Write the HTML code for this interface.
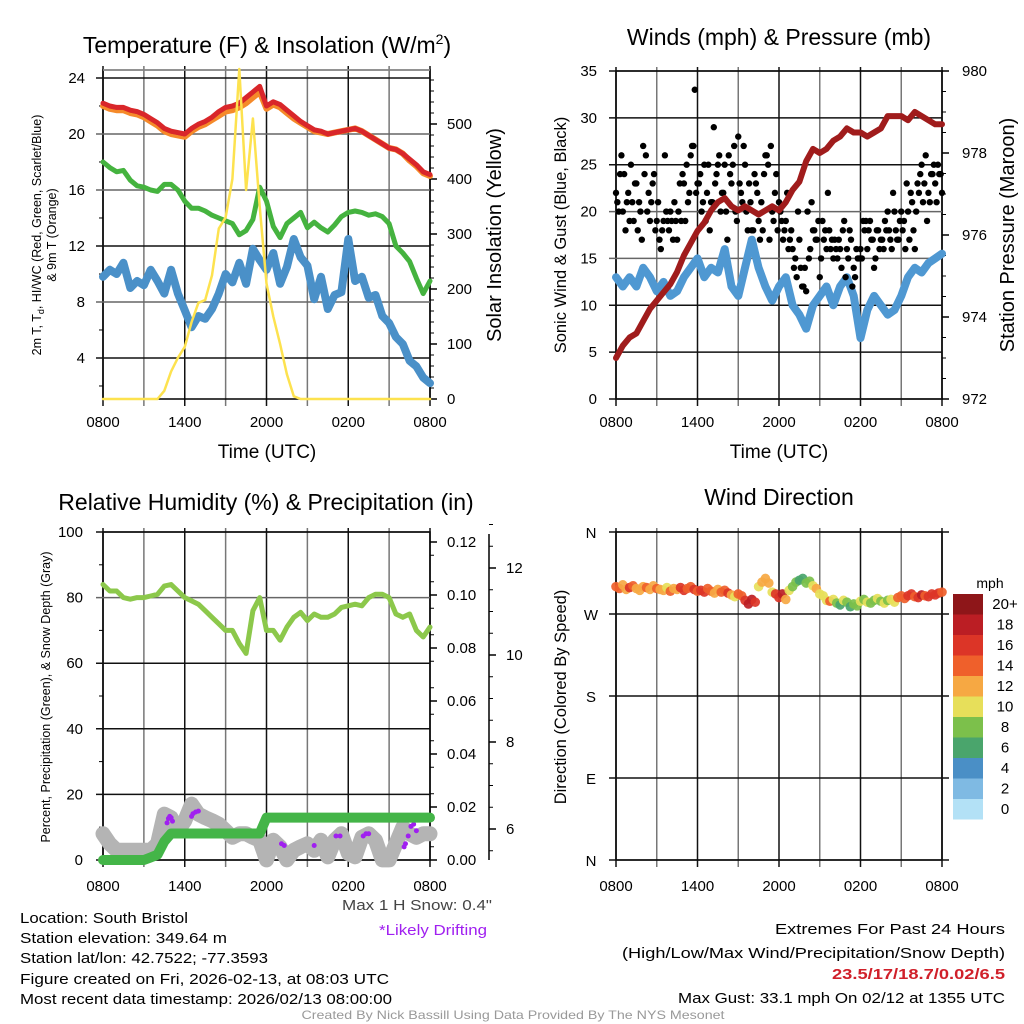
<!DOCTYPE html>
<html><head><meta charset="utf-8"><style>
html,body{margin:0;padding:0;background:#fff;}
svg{display:block;font-family:"Liberation Sans",sans-serif;}
</style></head><body>
<svg id="s" width="1024" height="1024" viewBox="0 0 1024 1024" xmlns="http://www.w3.org/2000/svg">
<rect width="1024" height="1024" fill="#fff"/>
<text x="267" y="53" font-size="23" text-anchor="middle">Temperature (F) &amp; Insolation (W/m<tspan font-size="14" dy="-9">2</tspan><tspan dy="9">)</tspan></text>
<text x="779" y="45" font-size="23" text-anchor="middle">Winds (mph) &amp; Pressure (mb)</text>
<text x="266" y="510" font-size="23" text-anchor="middle">Relative Humidity (%) &amp; Precipitation (in)</text>
<text x="779" y="505" font-size="23" text-anchor="middle">Wind Direction</text>
<text x="267" y="458" font-size="19" text-anchor="middle">Time (UTC)</text>
<text x="779" y="458" font-size="19" text-anchor="middle">Time (UTC)</text>
<text transform="translate(41,235) rotate(-90)" font-size="12.5" text-anchor="middle">2m T, T<tspan font-size="9" dy="3">d</tspan><tspan dy="-3">, HI/WC (Red, Green, Scarlet/Blue)</tspan></text>
<text transform="translate(56,235) rotate(-90)" font-size="12.5" text-anchor="middle">&amp; 9m T (Orange)</text>
<text transform="translate(501,235) rotate(-90)" font-size="20" text-anchor="middle">Solar Insolation (Yellow)</text>
<text transform="translate(566,235) rotate(-90)" font-size="16.5" text-anchor="middle">Sonic Wind &amp; Gust (Blue, Black)</text>
<text transform="translate(1014,235) rotate(-90)" font-size="20" text-anchor="middle">Station Pressure (Maroon)</text>
<text transform="translate(50,697) rotate(-90)" font-size="12.5" text-anchor="middle">Percent, Precipitation (Green), &amp; Snow Depth (Gray)</text>
<text transform="translate(566,697) rotate(-90)" font-size="16.5" text-anchor="middle">Direction (Colored By Speed)</text>
<text x="990" y="588" font-size="14" text-anchor="middle">mph</text>
<g font-size="15">
<text x="492" y="910" text-anchor="end" fill="#444" textLength="150" lengthAdjust="spacingAndGlyphs">Max 1 H Snow: 0.4"</text>
<text x="487" y="935" text-anchor="end" fill="#a020f0" textLength="108" lengthAdjust="spacingAndGlyphs">*Likely Drifting</text>
<text x="20" y="923" textLength="168" lengthAdjust="spacingAndGlyphs">Location: South Bristol</text>
<text x="20" y="943" textLength="207" lengthAdjust="spacingAndGlyphs">Station elevation: 349.64 m</text>
<text x="20" y="963" textLength="248" lengthAdjust="spacingAndGlyphs">Station lat/lon: 42.7522; -77.3593</text>
<text x="20" y="984" textLength="369" lengthAdjust="spacingAndGlyphs">Figure created on Fri, 2026-02-13, at 08:03 UTC</text>
<text x="20" y="1004" textLength="372" lengthAdjust="spacingAndGlyphs">Most recent data timestamp: 2026/02/13 08:00:00</text>
<text x="1005" y="934" text-anchor="end" textLength="230" lengthAdjust="spacingAndGlyphs">Extremes For Past 24 Hours</text>
<text x="1005" y="958" text-anchor="end" textLength="383" lengthAdjust="spacingAndGlyphs">(High/Low/Max Wind/Precipitation/Snow Depth)</text>
<text x="1005" y="979" text-anchor="end" fill="#d0202a" font-weight="bold" textLength="173" lengthAdjust="spacingAndGlyphs">23.5/17/18.7/0.02/6.5</text>
<text x="1005" y="1003" text-anchor="end" textLength="327" lengthAdjust="spacingAndGlyphs">Max Gust: 33.1 mph On 02/12 at 1355 UTC</text>
</g>
<text x="513" y="1019" font-size="12" fill="#999" text-anchor="middle" textLength="423" lengthAdjust="spacingAndGlyphs">Created By Nick Bassill Using Data Provided By The NYS Mesonet</text>
<g id="marks"></g>
</svg>
<script>
// ---- data ----
const hh = [];
for (let i = 0; i <= 48; i++) hh.push(i * 0.5);
const xTickLabels = ["0800","1400","2000","0200","0800"];
const tempRed = [22.2,22.0,21.9,21.9,21.7,21.6,21.4,21.1,20.8,20.4,20.2,20.1,20.0,20.4,20.7,20.9,21.2,21.6,21.9,22.0,22.2,22.6,23.0,23.4,22.0,22.3,22.1,21.7,21.3,20.9,20.6,20.3,20.2,20.0,20.1,20.2,20.3,20.4,20.2,19.9,19.6,19.3,19.0,18.9,18.6,18.2,17.8,17.3,17.1];
const temp9m = [22.0,21.8,21.7,21.7,21.5,21.4,21.2,20.9,20.6,20.2,20.0,19.9,19.8,20.2,20.5,20.7,21.0,21.3,21.6,21.7,21.9,22.2,22.6,23.0,21.8,22.1,21.9,21.5,21.1,20.8,20.5,20.2,20.1,20.0,20.1,20.2,20.3,20.4,20.2,19.9,19.6,19.3,19.0,18.9,18.6,18.1,17.7,17.2,17.0];
const tempWC = [22.1,21.9,21.8,21.8,21.6,21.5,21.3,21.0,20.7,20.3,20.1,20.0,19.9,20.3,20.6,20.8,21.1,21.5,21.8,21.9,22.1,22.5,22.9,23.3,21.9,22.2,22.0,21.6,21.2,20.8,20.5,20.2,20.1,19.9,20.0,20.1,20.2,20.3,20.1,19.8,19.5,19.2,18.9,18.8,18.5,18.1,17.7,17.2,17.0];
const dewGreen = [18.0,17.6,17.3,17.4,16.7,16.3,16.2,16.0,15.9,16.4,16.4,16.0,15.2,14.7,14.7,14.5,14.2,14.0,13.8,13.6,12.8,13.1,13.9,16.2,15.2,13.4,12.6,13.6,14.0,14.4,13.3,13.7,13.3,13.0,13.5,14.1,14.4,14.5,14.4,14.2,14.3,14.1,13.6,12.0,11.5,10.9,9.7,8.6,9.5];
const chillBlue = [9.8,10.3,10.0,10.8,9.0,9.5,9.2,10.3,9.5,8.6,10.3,8.6,7.4,6.2,7.0,6.8,7.5,8.6,10.0,9.4,10.8,9.3,11.8,11.0,10.3,11.5,9.3,10.5,12.5,11.2,10.6,8.2,9.8,7.5,8.5,8.7,12.5,9.5,9.8,8.3,8.5,7.0,6.5,5.5,5.0,3.8,3.4,2.6,2.2];
const solar = [0,0,0,0,0,0,0,0,0,15,50,75,95,140,175,180,225,310,330,400,600,380,510,350,210,150,100,45,5,0,0,0,0,0,0,0,0,0,0,0,0,0,0,0,0,0,0,0,0];
const tempTicks = [4,8,12,16,20,24];
const solarTicks = [0,100,200,300,400,500];
const pressure = [973.0,973.3,973.5,973.6,973.9,974.2,974.4,974.6,974.8,975.1,975.5,975.8,976.1,976.3,976.6,976.8,976.9,976.7,976.6,976.7,976.6,976.5,976.6,976.7,976.6,976.8,977.1,977.3,977.8,978.1,978.0,978.1,978.3,978.4,978.6,978.5,978.5,978.4,978.5,978.6,978.9,978.9,978.9,978.8,979.0,978.9,978.8,978.7,978.7];
const windSpeed = [13,12,13,12,14,13,11.5,12.5,11,11.5,13,14,15,13,14,13.5,16,12,11,14,17,14,12,10.5,12,13,10,9,7.5,10,11,12,10,12,13,11,6.5,9.5,11,10,9,9.5,11,13,14,13.5,14.5,15,15.5];
const gustsA = [22,20,26,24,21,19,21,23,18,20,27,26,22,21,24,19,17,18,26,19,20,17,19,20,19,23,25,22,27,33,23,24,21,19,25,21,29,24,26,22,25,17,24,25,20,28,22,27,20,23,18,24,22,17,18,26,25,27,19,24,21,19,18,22,17,16,15,20,14,12,11.5,15,21,18,17,13,19,18,22,16,15,16,17,14,19,16,18,12,13,15,16,19,19,18,17,14,18,16,17,19,20,17,22,18,17,20,19,23,17,21,16,23,24,21,26,22,24,25,21,24,22];
const gustsB = [21,24,20,18,22,25,19,23,21,17,24,20,19,23,18,21,16,19,20,18,19,21,17,23,24,19,21,26,27,22,23,20,25,22,18,21,23,25,20,22,20,26,23,27,19,23,21,25,18,21,18,23,19,21,24,26,17,20,22,18,20,17,19,16,18,14,13,17,12,14,20,16,18,17,19,15,17,16,18,17,17,15,16,18,13,15,17,14,16,15,15,18,16,19,17,15,18,17,16,18,18,16,20,17,19,18,16,20,22,18,20,22,25,23,19,21,24,23,25,24];
const windTicks = [0,5,10,15,20,25,30,35];
const presTicks = [972,974,976,978,980];
const rh = [84,82,82,80,79.5,80,80,80.5,81,83.5,84,82,80,79,78,76,74,72,70,70,66,63,76,80,70,70,67,71,74,75.5,73,75,74,74,75,77,77.5,78,77.5,80,81,81,80,75,74,75,70,68,71];
const precip = [0,0,0,0,0,0,0,0.001,0.002,0.007,0.01,0.01,0.01,0.01,0.01,0.01,0.01,0.01,0.01,0.01,0.01,0.01,0.01,0.01,0.016,0.016,0.016,0.016,0.016,0.016,0.016,0.016,0.016,0.016,0.016,0.016,0.016,0.016,0.016,0.016,0.016,0.016,0.016,0.016,0.016,0.016,0.016,0.016,0.016];
const snowDepth = [5.89,5.66,5.51,5.51,5.51,5.51,5.51,5.51,5.66,6.34,6.26,5.96,6.19,6.57,6.34,6.26,6.19,6.11,5.96,5.81,5.89,5.89,5.81,5.74,5.29,5.74,5.59,5.29,5.51,5.59,5.66,5.51,5.74,5.36,5.74,5.89,5.44,5.36,5.81,5.89,5.74,5.29,5.29,5.66,6.04,5.89,5.81,5.89,5.89];
const driftT = [4.7,4.8,4.9,5.0,5.1,6.5,6.6,6.8,7.0,13.1,13.3,15.5,17.1,17.4,19.1,19.3,19.5,22.1,22.2,22.4,22.6,22.8,23.0];
const driftSnow = [6.14,6.24,6.29,6.26,6.18,6.29,6.35,6.39,6.41,5.66,5.62,5.62,5.84,5.84,5.84,5.89,5.89,5.59,5.66,5.84,6.06,6.11,5.96];
const rhTicks = [0,20,40,60,80,100];
const precTicks = [0,0.02,0.04,0.06,0.08,0.10,0.12];
const snowTicks = [6,8,10,12];
const dirT = [];
for (let i = 0; i <= 96; i++) dirT.push(i * 0.25);
const dirs = [300,298,302,297,299,301,298,296,300,299,297,301,298,297,296,299,295,298,297,299,296,298,300,297,295,296,294,298,295,293,297,294,296,293,291,289,292,290,285,281,286,283,300,305,309,304,294,292,288,292,286,296,300,305,307,309,304,306,301,298,292,290,285,284,286,282,280,285,283,278,281,279,284,286,283,282,285,287,284,282,285,286,283,288,290,287,290,292,289,288,291,290,289,292,291,293,294];
const dirSpeed = [14,15,13,12,16,14,13,12,13,14,12,12,15,13,12,11,14,12,13,16,17,15,14,16,15,16,17,14,15,13,12,14,15,16,12,11,14,15,16,18,19,17,11,12,13,12,11,16,17,18,12,11,9,8,7,7,8,9,10,12,11,10,11,14,10,8,6,10,9,7,8,9,10,8,10,8,9,11,8,10,9,11,10,14,15,15,16,17,14,16,18,15,17,16,16,17,15];
const dirLabels = ["N","W","S","E","N"];
const dirTickVals = [360,270,180,90,0];
const speedBins = ["0","2","4","6","8","10","12","14","16","18","20+"];
const speedColors = ["#b3e1f6","#7fbae3","#4a8fc6","#4aa56c","#7cc04b","#e7df5a","#f6a843","#ef602b","#dc3527","#bb1e24","#8e1619"];

// ---- helpers ----
const NS = "http://www.w3.org/2000/svg";
const root = document.getElementById("marks");
function mk(tag, attrs, name) {
  const el = document.createElementNS(NS, tag);
  for (const k in attrs) el.setAttribute(k, attrs[k]);
  
  
  root.appendChild(el);
  return el;
}
function txt(x, y, s, size, anchor, name, fill) {
  const el = mk("text", {x: x, y: y, "font-size": size, "text-anchor": anchor, fill: fill || "#000"}, name);
  el.textContent = s;
  return el;
}
function line(x1, y1, x2, y2, stroke, w, name) {
  return mk("line", {x1: x1, y1: y1, x2: x2, y2: y2, stroke: stroke, "stroke-width": w}, name);
}
function series(ts, vs, X, Y, color, w, name) {
  const pts = ts.map((t, i) => X(t).toFixed(1) + "," + Y(vs[i]).toFixed(1)).join(" ");
  return mk("polyline", {points: pts, fill: "none", stroke: color, "stroke-width": w, "stroke-linejoin": "round", "stroke-linecap": "round"}, name);
}

// ---- scales ----
const L1 = 103, R1 = 430, L2 = 616, R2 = 942;
const X1 = t => L1 + t * (R1 - L1) / 24;
const X2 = t => L2 + t * (R2 - L2) / 24;
const Ytemp = v => 399 - (v - 1.07) * 14;
const Ysol = v => 399 - v * 0.55;
const Ywind = v => 399 - v * 328 / 35;
const Ypres = v => 399 - (v - 972) * 41;
const Yrh = v => 860 - v * 3.28;
const Yprec = v => 860 - v * 2650;
const Ysnow = v => 829 - (v - 6) * 43.5;
const Ydir = v => 860 - v * 328 / 360;

function frame(L, R, T, B, X, prefix, labelY) {
  for (let h = 0; h <= 24; h += 3) {
    const x = X(h);
    line(x, T - 4, x, B + 7, (h % 6 === 0) ? "#111" : "#777", 1.5, prefix + "-vgrid");
  }
  mk("rect", {x: L, y: T, width: R - L, height: B - T, fill: "none", stroke: "#000", "stroke-width": 1.5}, prefix + "-frame");
  xTickLabels.forEach((s, i) => txt(X(i * 6), labelY, s, 15, "middle", prefix + "-x-tick-label"));
}

// Panel 1
frame(L1, R1, 70, 399, X1, "temp", 427);
line(L1, 70, R1, 70, "#999", 1.5, "temp-top-line");
tempTicks.forEach(v => {
  line(L1 - 7, Ytemp(v), R1, Ytemp(v), (v === 8 || v === 16 || v === 20) ? "#666" : "#111", 1.5, "temp-hgrid");
  txt(L1 - 18, Ytemp(v) + 5, String(v), 15, "end", "temp-y-tick-label");
});
for (let v = 2; v <= 24; v += 4) line(L1 - 4, Ytemp(v), L1, Ytemp(v), "#000", 1, "temp-minor-tick");
solarTicks.forEach(v => {
  line(R1, Ysol(v), R1 + 7, Ysol(v), "#000", 1.5, "solar-tick");
  txt(447, Ysol(v) + 5, String(v), 15, "start", "solar-y-tick-label");
});
for (let v = 20; v <= 590; v += 20) line(R1, Ysol(v), R1 + 4, Ysol(v), "#000", 1, "solar-minor-tick");
series(hh, temp9m, X1, Ytemp, "#f58a2a", 6, "temp-9m-line");
series(hh, tempRed, X1, Ytemp, "#d9262a", 5, "temp-2m-line");
series(hh, tempWC, X1, Ytemp, "#d9262a", 2, "windchill-line");
series(hh, dewGreen, X1, Ytemp, "#45b33f", 5, "dewpoint-line");
series(hh, chillBlue, X1, Ytemp, "#4a90c8", 8, "windchill-blue-line");
series(hh, solar, X1, Ysol, "#fde24f", 2.5, "solar-line");

// Panel 2
frame(L2, R2, 71, 399, X2, "wind", 427);
windTicks.forEach(v => {
  line(L2 - 7, Ywind(v), R2, Ywind(v), (v === 15 || v === 20) ? "#666" : "#111", 1.5, "wind-hgrid");
  txt(597, Ywind(v) + 5, String(v), 15, "end", "wind-y-tick-label");
});
presTicks.forEach(v => {
  line(R2, Ypres(v), R2 + 7, Ypres(v), "#000", 1.5, "pressure-tick");
  txt(962, Ypres(v) + 5, String(v), 15, "start", "pressure-y-tick-label");
});
for (let v = 972.5; v < 980; v += 0.5) line(R2, Ypres(v), R2 + 4, Ypres(v), "#000", 1, "pressure-minor-tick");
series(hh, windSpeed, X2, Ywind, "#4f98d2", 8, "wind-speed-line");
gustsA.forEach((g, i) => mk("circle", {cx: X2(i * 0.2), cy: Ywind(g), r: 3.2, fill: "#000"}, "gust-dot"));
gustsB.forEach((g, i) => mk("circle", {cx: X2(0.1 + i * 0.2), cy: Ywind(g), r: 3.2, fill: "#000"}, "gust-dot"));
series(hh, pressure, X2, Ypres, "#a01c1c", 6, "pressure-line");

// Panel 3
frame(L1, R1, 532, 860, X1, "rh", 891);
rhTicks.forEach(v => {
  line(L1 - 7, Yrh(v), R1, Yrh(v), (v === 80) ? "#666" : "#111", 1.5, "rh-hgrid");
  txt(83, Yrh(v) + 5, String(v), 15, "end", "rh-y-tick-label");
});
for (let v = 10; v < 100; v += 20) line(L1 - 4, Yrh(v), L1, Yrh(v), "#000", 1, "rh-minor-tick");
precTicks.forEach(v => {
  line(R1, Yprec(v), R1 + 7, Yprec(v), "#000", 1.5, "precip-tick");
  txt(447, Yprec(v) + 5, v.toFixed(2), 15, "start", "precip-y-tick-label");
});
for (let v = 0.005; v < 0.12; v += 0.01) line(R1, Yprec(v), R1 + 4, Yprec(v), "#000", 1, "precip-minor-tick");
line(489, 534, 489, 860, "#000", 1.5, "snow-axis-line");
snowTicks.forEach(v => {
  line(489, Ysnow(v), 496, Ysnow(v), "#000", 1.5, "snow-tick");
  txt(506, Ysnow(v) + 5, String(v), 15, "start", "snow-y-tick-label");
});
for (let v = 5.5; v <= 13; v += 0.5) if (v % 2 !== 0) line(489, Ysnow(v), 493, Ysnow(v), "#000", 1, "snow-minor-tick");
series(hh, snowDepth, X1, Ysnow, "#b4b4b4", 15, "snow-depth-line");
driftT.forEach((t, i) => mk("circle", {cx: X1(t), cy: Ysnow(driftSnow[i]), r: 2.5, fill: "#a020f0"}, "drifting-dot"));
series(hh, precip, X1, Yprec, "#44b548", 10, "precip-line");
series(hh, rh, X1, Yrh, "#8cc84b", 5, "rh-line");

// Panel 4
frame(L2, R2, 532, 860, X2, "dir", 891);
dirTickVals.forEach((v, i) => {
  line(L2 - 7, Ydir(v), R2 + 7, Ydir(v), "#111", 1.5, "dir-hgrid");
  txt(591, Ydir(v) + 6, dirLabels[i], 15, "middle", "dir-y-tick-label");
});
dirs.forEach((d, i) => {
  const b = Math.min(10, Math.floor(dirSpeed[i] / 2));
  mk("circle", {cx: X2(dirT[i]), cy: Ydir(d), r: 4.8, fill: speedColors[b], "fill-opacity": 0.92}, "direction-dot");
});
speedBins.forEach((s, i) => {
  const k = 10 - i;
  const y = 594 + i * 20.5;
  mk("rect", {x: 953, y: y, width: 30, height: 20.5, fill: speedColors[k]}, "speed-legend-swatch");
  txt(1005, y + 15, speedBins[k], 15, "middle", "speed-legend-label");
});
</script>
</body></html>
